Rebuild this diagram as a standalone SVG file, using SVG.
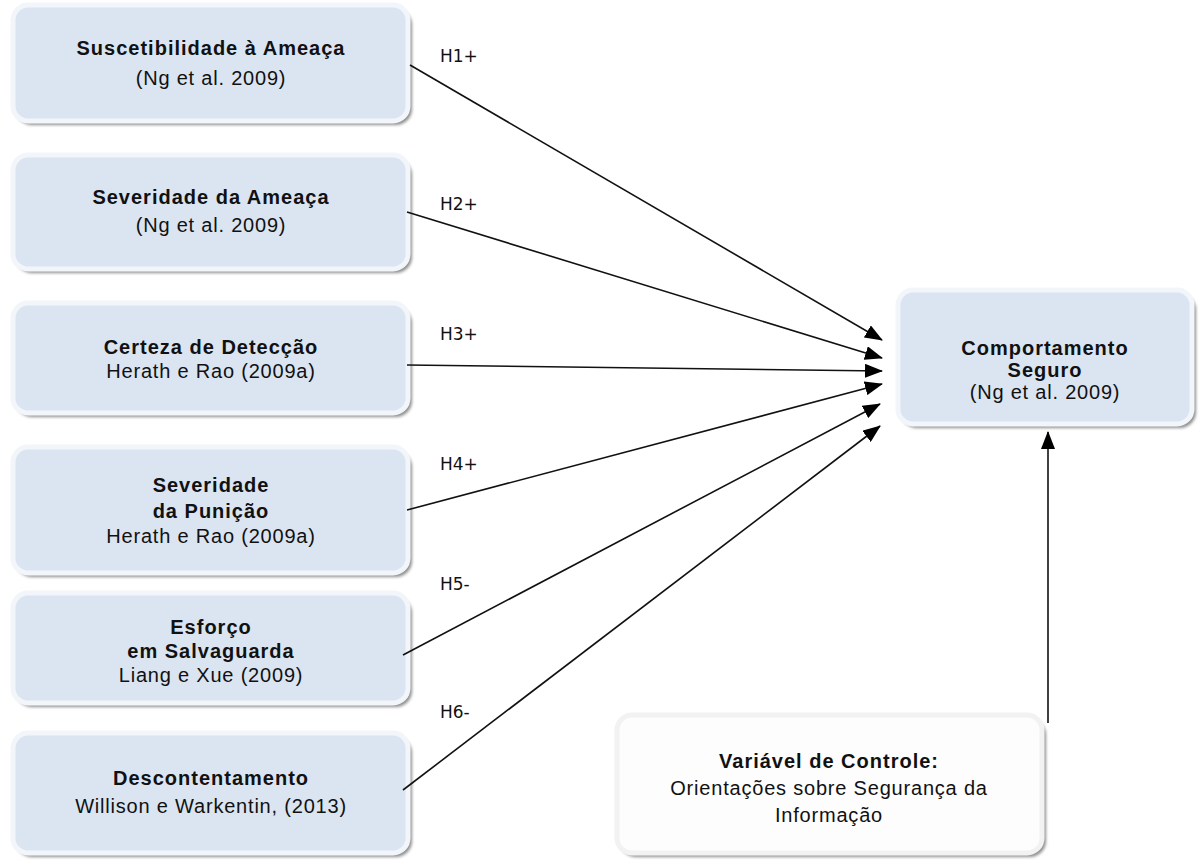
<svg xmlns="http://www.w3.org/2000/svg" width="1199" height="860" viewBox="0 0 1199 860">
  <defs>
    <filter id="soft" x="-5%" y="-10%" width="110%" height="125%">
      <feGaussianBlur stdDeviation="1.6"/>
    </filter>
    <marker id="tri" markerUnits="userSpaceOnUse" markerWidth="18" markerHeight="14" refX="17" refY="7" orient="auto">
      <path d="M0,0 L18,7 L0,14 Z" fill="#000"/>
    </marker>
  </defs>
  <style>
    .shadow { fill: #8f8f8f; filter: url(#soft); }
    .box { fill: #dbe5f1; stroke: #f2f5f9; stroke-width: 5; }
    .plain { fill: #fdfdfd; stroke: #f2f2f2; stroke-width: 5; }
    .title { font-family: "Liberation Sans", Arial, sans-serif; font-size: 20px; font-weight: bold; letter-spacing: 1px; fill: #111; text-anchor: middle; }
    .ref { font-family: "Liberation Sans", Arial, sans-serif; font-size: 20px; letter-spacing: 0.8px; fill: #111; text-anchor: middle; }
    .hyp { font-family: "DejaVu Sans", sans-serif; font-size: 17px; fill: #111; }
    .link { stroke: #111; stroke-width: 1.6; fill: none; marker-end: url(#tri); }
  </style>
  <rect width="1199" height="860" fill="#ffffff"/>

  <!-- predictor constructs -->
  <g id="n-suscetibilidade">
    <rect class="shadow" x="16" y="9" width="396" height="116" rx="16"/>
    <rect class="box" x="13" y="5" width="395" height="116" rx="15"/>
    <text class="title" x="211" y="55">Suscetibilidade à Ameaça</text>
    <text class="ref" x="211" y="85">(Ng et al. 2009)</text>
  </g>
  <g id="n-severidade-ameaca">
    <rect class="shadow" x="16" y="159" width="396" height="114" rx="16"/>
    <rect class="box" x="13" y="155" width="395" height="114" rx="15"/>
    <text class="title" x="211" y="204">Severidade da Ameaça</text>
    <text class="ref" x="211" y="232">(Ng et al. 2009)</text>
  </g>
  <g id="n-certeza">
    <rect class="shadow" x="16" y="307" width="396" height="110" rx="16"/>
    <rect class="box" x="13" y="303" width="395" height="110" rx="15"/>
    <text class="title" x="211" y="354">Certeza de Detecção</text>
    <text class="ref" x="211" y="378">Herath e Rao (2009a)</text>
  </g>
  <g id="n-severidade-punicao">
    <rect class="shadow" x="16" y="451" width="396" height="126" rx="16"/>
    <rect class="box" x="13" y="447" width="395" height="126" rx="15"/>
    <text class="title" x="211" y="492">Severidade</text>
    <text class="title" x="211" y="518">da Punição</text>
    <text class="ref" x="211" y="543">Herath e Rao (2009a)</text>
  </g>
  <g id="n-esforco">
    <rect class="shadow" x="16" y="597" width="396" height="110" rx="16"/>
    <rect class="box" x="13" y="593" width="395" height="110" rx="15"/>
    <text class="title" x="211" y="634">Esforço</text>
    <text class="title" x="211" y="658">em Salvaguarda</text>
    <text class="ref" x="211" y="682">Liang e Xue (2009)</text>
  </g>
  <g id="n-descontentamento">
    <rect class="shadow" x="16" y="737" width="396" height="120" rx="16"/>
    <rect class="box" x="13" y="733" width="395" height="120" rx="15"/>
    <text class="title" x="211" y="785">Descontentamento</text>
    <text class="ref" x="211" y="813">Willison e Warkentin, (2013)</text>
  </g>

  <!-- outcome -->
  <g id="n-comportamento">
    <rect class="shadow" x="901" y="294" width="295" height="134" rx="16"/>
    <rect class="box" x="898" y="290" width="294" height="134" rx="15"/>
    <text class="title" x="1045" y="355">Comportamento</text>
    <text class="title" x="1045" y="377">Seguro</text>
    <text class="ref" x="1045" y="399">(Ng et al. 2009)</text>
  </g>

  <!-- control variable -->
  <g id="n-controle">
    <rect class="shadow" x="620" y="719" width="426" height="138" rx="16"/>
    <rect class="plain" x="617" y="715" width="425" height="138" rx="15"/>
    <text class="title" x="829" y="768">Variável de Controle:</text>
    <text class="ref" x="829" y="795">Orientações sobre Segurança  da</text>
    <text class="ref" x="829" y="822">Informação</text>
  </g>

  <!-- hypothesis paths -->
  <g id="connectors">
    <line class="link" x1="410" y1="65" x2="882" y2="340"/>
    <line class="link" x1="407" y1="212" x2="882" y2="358"/>
    <line class="link" x1="407" y1="365" x2="882" y2="371"/>
    <line class="link" x1="407" y1="510" x2="882" y2="384"/>
    <line class="link" x1="403" y1="655" x2="880" y2="404"/>
    <line class="link" x1="403" y1="790" x2="880" y2="426"/>
    <line class="link" x1="1048" y1="723" x2="1048" y2="432"/>
  </g>

  <g id="labels">
    <text class="hyp" x="440" y="62">H1+</text>
    <text class="hyp" x="440" y="210">H2+</text>
    <text class="hyp" x="440" y="340">H3+</text>
    <text class="hyp" x="440" y="470">H4+</text>
    <text class="hyp" x="440" y="590">H5-</text>
    <text class="hyp" x="440" y="718">H6-</text>
  </g>
</svg>
